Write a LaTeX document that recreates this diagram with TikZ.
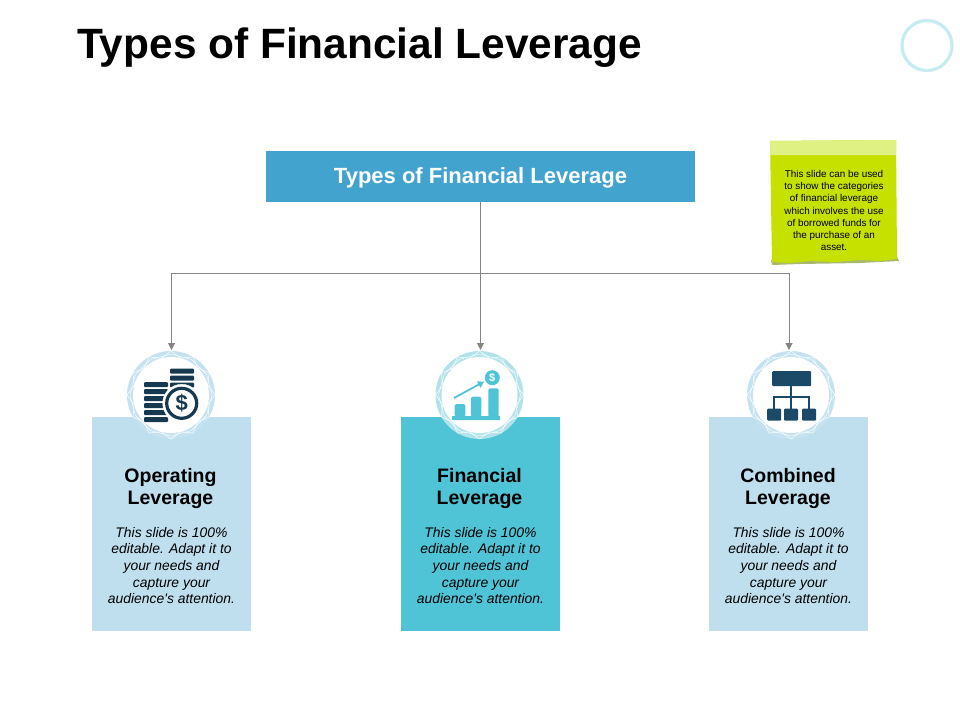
\documentclass[tikz,border=0pt]{standalone}
\usepackage{fontspec}
\setmainfont{Liberation Sans}[Ligatures=TeXOff]
\usetikzlibrary{arrows.meta}
\usetikzlibrary{calc}
\definecolor{headblue}{HTML}{41A3CE}
\definecolor{paleblue}{HTML}{BFDFEE}
\definecolor{tealbox}{HTML}{4FC4D6}
\definecolor{palering}{HTML}{C4E2F0}
\definecolor{tealring}{HTML}{B2E3EA}
\definecolor{decoring}{HTML}{C6EBF0}
\definecolor{navy}{HTML}{17394F}
\definecolor{slate}{HTML}{1A4A68}
\definecolor{notegreen}{HTML}{C6E000}
\definecolor{notetop}{HTML}{E0F184}
\definecolor{noteedge}{HTML}{A9B96A}
\definecolor{wire}{HTML}{858585}
\newcommand{\facets}[3]{%
	\fill[#3] (#1,#2) circle (44);
	\foreach \a in {0,30,...,330} {
		\draw[white,line width=0.5pt] ($(#1,#2)+(\a:44)$) -- ($(#1,#2)+(\a+15:38)$) -- ($(#1,#2)+(\a+30:44)$);
		\draw[white,line width=0.4pt] ($(#1,#2)+(\a:41)$) -- ($(#1,#2)+(\a+30:41)$);
	}
	\fill[white] (#1,#2) circle (38);
}
\tikzstyle{card}=[rectangle,minimum width=159pt,minimum height=214pt,inner sep=0pt]
\tikzstyle{cardhead}=[align=center,font=\fontsize{19.5}{22}\selectfont\bfseries,inner sep=0pt]
\tikzstyle{cardtext}=[align=center,font=\fontsize{13.9}{16.7}\selectfont\itshape,inner sep=0pt]
\tikzstyle{link}=[draw=wire,line width=1pt]
\tikzstyle{arrow}=[link,-{Triangle[length=7pt,width=7pt]}]
\tikzstyle{subbox}=[rectangle,fill=slate,rounded corners=1pt,minimum width=14pt,minimum height=12pt,inner sep=0pt]
\begin{document}
\begin{tikzpicture}[x=1pt,y=-1pt]
		\useasboundingbox (0,0) rectangle (960,720);
		\fill[white] (0,0) rectangle (960,720);
		
		\node[anchor=west,inner sep=0pt,font=\fontsize{42.4}{46}\selectfont\bfseries] (heading) at (77,48) {Types of Financial Leverage};
		\node[draw=decoring,line width=3.2pt,circle,minimum size=50pt,inner sep=0pt] (deco) at (927,45.5) {};
		
		% top box
		\node[rectangle,fill=headblue,minimum width=429pt,minimum height=51pt,inner sep=0pt] (types) at (480.5,176.5) {};
		\node[inner sep=0pt,text=white,font=\fontsize{22}{24}\selectfont\bfseries] (typestext) at (480.5,177.5) {Types of Financial Leverage};
		
		% sticky note
		\fill[noteedge] (771,260) -- (897,257) -- (899,261) -- (860,263) -- (800,264) -- (772,265) -- cycle;
		\fill[notegreen] (770,141) -- (896,140) -- (897,259) -- (880,261) -- (860,260) -- (835,262) -- (810,261) -- (790,263) -- (772,262) -- cycle;
		\fill[notetop] (770,141) -- (896,140) -- (896,155) -- (770,155) -- cycle;
		\node[align=center,inner sep=0pt,font=\fontsize{9.9}{12.2}\selectfont] (note) at (834,210.5) {This slide can be used\\to show the categories\\of financial leverage\\which involves the use\\of borrowed funds for\\the purchase of an\\asset.};
		
		% cards
		\node[card,fill=paleblue] (opbox) at (171.5,524) {};
		\node[card,fill=tealbox] (finbox) at (480,524) {};
		\node[card,fill=paleblue] (combox) at (788.5,524) {};
		
		\node[cardhead] (ophead) at (170.5,488) {Operating\\Leverage};
		\node[cardhead] (finhead) at (479.5,488) {Financial\\Leverage};
		\node[cardhead] (comhead) at (788,488) {Combined\\Leverage};
		
		\node[cardtext] (optext) at (171.5,565.5) {This slide is 100\%\\editable. Adapt it to\\your needs and\\capture your\\audience's attention.};
		\node[cardtext] (fintext) at (480.5,565.5) {This slide is 100\%\\editable. Adapt it to\\your needs and\\capture your\\audience's attention.};
		\node[cardtext] (comtext) at (788.5,565.5) {This slide is 100\%\\editable. Adapt it to\\your needs and\\capture your\\audience's attention.};
		
		% rings
		\facets{171}{395}{palering}
		\facets{479.5}{395}{tealring}
		\facets{791}{395}{palering}
		
		% connectors
		\coordinate (hub) at (480.5,273.5);
		\coordinate (opend) at (171.5,350);
		\coordinate (finend) at (480.5,350);
		\coordinate (comend) at (789,350);
		\draw[link] (types.south) -- (hub);
		\draw[arrow] (hub) -| (opend);
		\draw[arrow] (hub) -- (finend);
		\draw[arrow] (hub) -| (comend);
		
		% coins
		\foreach \y in {368.5,375.5,382.5} {
			\fill[navy,rounded corners=1pt] (170,\y) rectangle (194,\y+5.2);
		}
		\foreach \y in {382,389,396,403,410,417} {
			\fill[navy,rounded corners=1pt] (144,\y) rectangle (168,\y+5.2);
		}
		\draw[white,fill=white] (181.7,403.3) circle (19);
		\node[circle,draw=navy,fill=white,line width=3.2pt,minimum size=30pt,inner sep=0pt,text=navy,font=\fontsize{22}{22}\selectfont\bfseries,outer sep=0pt] (coin) at (181.7,403.3) {\$};
		
		% chart
		\fill[tealbox,rounded corners=0.5pt] (452,416) rectangle (500,420);
		\fill[tealbox,rounded corners=2pt] (454.7,417) rectangle (465.3,404);
		\fill[tealbox,rounded corners=2pt] (471,417) rectangle (481.3,396.7);
		\fill[tealbox,rounded corners=2pt] (488.3,417) rectangle (498.7,388.3);
		\draw[tealbox,line width=1.8pt,-{Triangle[length=6pt,width=7pt]}] (454,398) -- (484,381.7);
		\node[circle,fill=tealbox,minimum size=15pt,inner sep=0pt,text=white,font=\fontsize{11}{11}\selectfont\bfseries] (dollar) at (492.3,377.7) {\$};
		
		% org chart
		\node[rectangle,fill=slate,rounded corners=1pt,minimum width=39pt,minimum height=15pt,inner sep=0pt] (boss) at (791.7,378.7) {};
		\node[subbox] (subl) at (774.2,414.7) {};
		\node[subbox] (subm) at (791,414.7) {};
		\node[subbox] (subr) at (809,414.7) {};
		\coordinate (bar) at (791.3,397);
		\draw[slate,line width=2pt] (boss.south -| bar) -- (subm.north -| bar);
		\draw[slate,line width=2pt] (subl.north) |- (bar) -| (subr.north);
		\end{tikzpicture}
\end{document}
